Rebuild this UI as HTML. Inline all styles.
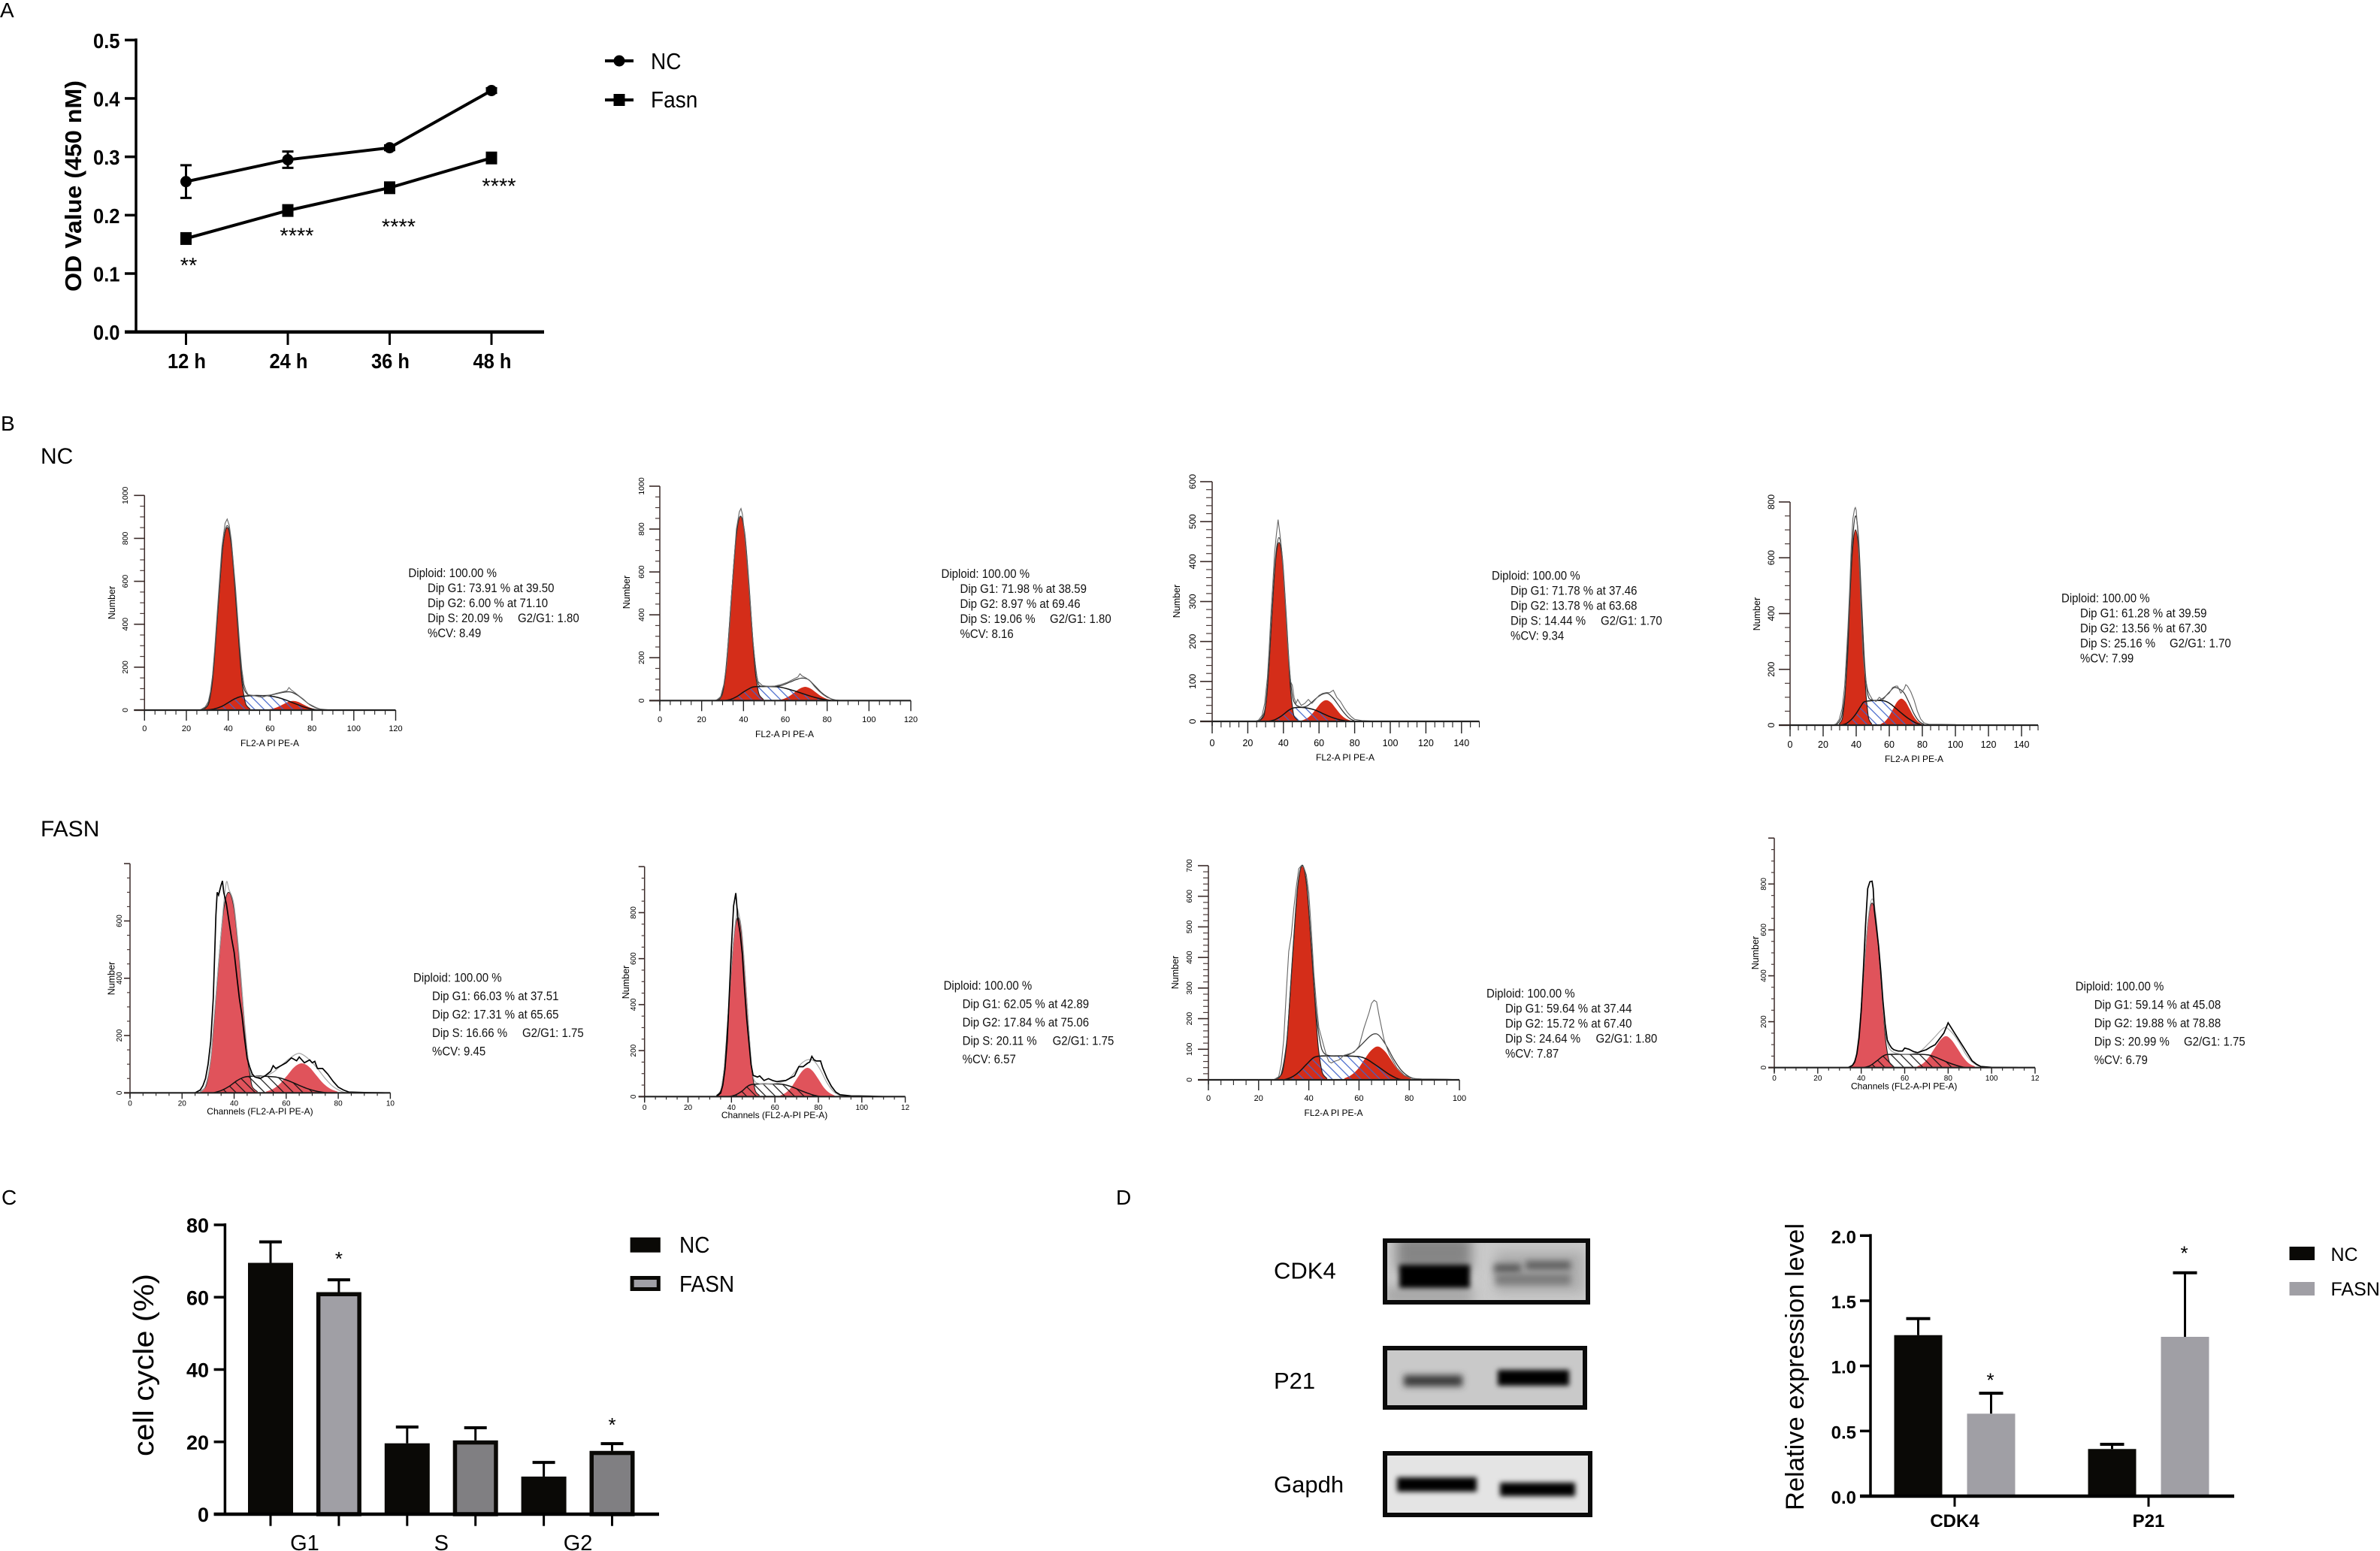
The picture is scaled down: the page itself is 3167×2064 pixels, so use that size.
<!DOCTYPE html>
<html lang="en">
<head>
<meta charset="utf-8">
<title>Cell proliferation and cell cycle figure</title>
<style>
html,body{margin:0;padding:0;background:#fff;}
svg#fig{display:block;}
text{font-family:"Liberation Sans",Arial,sans-serif;fill:#000;}
.st{font-size:15px;fill:#111;}
.pl{font-size:28px;}
.lg{font-size:28px;}
.wb{font-size:31px;}
</style>
</head>
<body>
<svg id="fig" width="3167" height="2064" viewBox="0 0 3167 2064">
<defs>
<pattern id="hatch-blue" patternUnits="userSpaceOnUse" width="9" height="9" patternTransform="rotate(-45)"><line x1="4" y1="0" x2="4" y2="9" stroke="#3f63c9" stroke-width="1.2"/></pattern>
<pattern id="hatch-black" patternUnits="userSpaceOnUse" width="9" height="9" patternTransform="rotate(-45)"><line x1="4" y1="0" x2="4" y2="9" stroke="#111" stroke-width="1.2"/></pattern>
<filter id="blur-soft" x="-30%" y="-100%" width="160%" height="300%"><feGaussianBlur stdDeviation="3.5"/></filter>
<filter id="blur-mid" x="-30%" y="-100%" width="160%" height="300%"><feGaussianBlur stdDeviation="4.5"/></filter>
<filter id="blur-wide" x="-30%" y="-80%" width="160%" height="260%"><feGaussianBlur stdDeviation="8"/></filter>
</defs>
<rect x="0" y="0" width="3167" height="2064" fill="#fff"/>

<text class="pl" x="0" y="23">A</text>
<text class="pl" x="1" y="573">B</text>
<text class="pl" x="2" y="1603">C</text>
<text class="pl" x="1485" y="1603">D</text>
<text font-size="30" x="54" y="617">NC</text>
<text font-size="30" x="54" y="1113">FASN</text>

<g id="panel-a"></g>
<g id="panel-b"></g>
<g id="panel-c"></g>
<g id="panel-d"></g>

<g transform="translate(543.4 768)">
<text class="st" x="0" y="0">Diploid: 100.00 %</text>
<text class="st" x="25.6" y="20">Dip G1: 73.91 % at 39.50</text>
<text class="st" x="25.6" y="40">Dip G2: 6.00 % at 71.10</text>
<text class="st" x="25.6" y="60">Dip S: 20.09 %</text>
<text class="st" x="145.6" y="60">G2/G1: 1.80</text>
<text class="st" x="25.6" y="80">%CV: 8.49</text>
</g>
<g transform="translate(1252.5 769)">
<text class="st" x="0" y="0">Diploid: 100.00 %</text>
<text class="st" x="25" y="20">Dip G1: 71.98 % at 38.59</text>
<text class="st" x="25" y="40">Dip G2: 8.97 % at 69.46</text>
<text class="st" x="25" y="60">Dip S: 19.06 %</text>
<text class="st" x="144.5" y="60">G2/G1: 1.80</text>
<text class="st" x="25" y="80">%CV: 8.16</text>
</g>
<g transform="translate(1985 771.7)">
<text class="st" x="0" y="0">Diploid: 100.00 %</text>
<text class="st" x="25" y="20">Dip G1: 71.78 % at 37.46</text>
<text class="st" x="25" y="40">Dip G2: 13.78 % at 63.68</text>
<text class="st" x="25" y="60">Dip S: 14.44 %</text>
<text class="st" x="145" y="60">G2/G1: 1.70</text>
<text class="st" x="25" y="80">%CV: 9.34</text>
</g>
<g transform="translate(2743 801.7)">
<text class="st" x="0" y="0">Diploid: 100.00 %</text>
<text class="st" x="25" y="20">Dip G1: 61.28 % at 39.59</text>
<text class="st" x="25" y="40">Dip G2: 13.56 % at 67.30</text>
<text class="st" x="25" y="60">Dip S: 25.16 %</text>
<text class="st" x="144" y="60">G2/G1: 1.70</text>
<text class="st" x="25" y="80">%CV: 7.99</text>
</g>
<g transform="translate(550 1306.7)">
<text class="st" x="0" y="0">Diploid: 100.00 %</text>
<text class="st" x="25" y="24.5">Dip G1: 66.03 % at 37.51</text>
<text class="st" x="25" y="49">Dip G2: 17.31 % at 65.65</text>
<text class="st" x="25" y="73.5">Dip S: 16.66 %</text>
<text class="st" x="145" y="73.5">G2/G1: 1.75</text>
<text class="st" x="25" y="98">%CV: 9.45</text>
</g>
<g transform="translate(1255.6 1317)">
<text class="st" x="0" y="0">Diploid: 100.00 %</text>
<text class="st" x="25" y="24.5">Dip G1: 62.05 % at 42.89</text>
<text class="st" x="25" y="49">Dip G2: 17.84 % at 75.06</text>
<text class="st" x="25" y="73.5">Dip S: 20.11 %</text>
<text class="st" x="145" y="73.5">G2/G1: 1.75</text>
<text class="st" x="25" y="98">%CV: 6.57</text>
</g>
<g transform="translate(1978 1327.7)">
<text class="st" x="0" y="0">Diploid: 100.00 %</text>
<text class="st" x="25" y="20">Dip G1: 59.64 % at 37.44</text>
<text class="st" x="25" y="40">Dip G2: 15.72 % at 67.40</text>
<text class="st" x="25" y="60">Dip S: 24.64 %</text>
<text class="st" x="145.5" y="60">G2/G1: 1.80</text>
<text class="st" x="25" y="80">%CV: 7.87</text>
</g>
<g transform="translate(2761.7 1318)">
<text class="st" x="0" y="0">Diploid: 100.00 %</text>
<text class="st" x="25" y="24.5">Dip G1: 59.14 % at 45.08</text>
<text class="st" x="25" y="49">Dip G2: 19.88 % at 78.88</text>
<text class="st" x="25" y="73.5">Dip S: 20.99 %</text>
<text class="st" x="144.3" y="73.5">G2/G1: 1.75</text>
<text class="st" x="25" y="98">%CV: 6.79</text>
</g>

<g>
<text class="wb" x="1695" y="1701.7">CDK4</text>
<text class="wb" x="1695" y="1848">P21</text>
<text class="wb" x="1695" y="1986">Gapdh</text>

<svg x="1840" y="1648" width="276" height="88" viewBox="1840 1648 276 88">
<rect x="1840" y="1648" width="276" height="88" fill="#cacaca"/>
<rect x="1858" y="1645" width="100" height="45" fill="#858585" filter="url(#blur-wide)"/>
<rect x="1842" y="1712" width="118" height="24" fill="#a6a6a6" filter="url(#blur-wide)"/>
<rect x="1990" y="1665" width="118" height="55" fill="#aeaeae" filter="url(#blur-wide)"/>
<rect x="1862" y="1683" width="94" height="31" fill="#030303" filter="url(#blur-soft)"/>
<rect x="1988" y="1682" width="36" height="12" fill="#585858" filter="url(#blur-mid)"/>
<rect x="2030" y="1678" width="60" height="12" fill="#5e5e5e" filter="url(#blur-mid)"/>
<rect x="1990" y="1695" width="100" height="15" fill="#7c7c7c" filter="url(#blur-mid)"/>
<rect x="1843" y="1651" width="270" height="82" fill="none" stroke="#0b0b0b" stroke-width="6"/>
</svg>
<svg x="1840" y="1791" width="272" height="85" viewBox="1840 1791 272 85">
<rect x="1840" y="1791" width="272" height="85" fill="#c9c9c9"/>
<rect x="1868" y="1830" width="78" height="15" fill="#3a3a3a" filter="url(#blur-mid)"/>
<rect x="1993" y="1823" width="95" height="21" fill="#030303" filter="url(#blur-soft)"/>
<rect x="1843" y="1794" width="266" height="79" fill="none" stroke="#0b0b0b" stroke-width="6"/>
</svg>
<svg x="1840" y="1931" width="279" height="88" viewBox="1840 1931 279 88">
<rect x="1840" y="1931" width="279" height="88" fill="#e4e4e4"/>
<rect x="1859" y="1966" width="106" height="19" fill="#030303" filter="url(#blur-soft)"/>
<rect x="1996" y="1973" width="100" height="18" fill="#050505" filter="url(#blur-soft)"/>
<rect x="1843" y="1934" width="273" height="82" fill="none" stroke="#0b0b0b" stroke-width="6"/>
</svg>
</g>
</svg>

<script>
/* ---------- Panel A data ---------- */
const timeCategories = ['12 h','24 h','36 h','48 h'];
const odTicks = [0,0.1,0.2,0.3,0.4,0.5];
const ncOd = [0.2575,0.295,0.3155,0.4135];
const ncOdErr = [0.028,0.014,0.004,0.004];
const fasnOd = [0.16,0.208,0.247,0.298];
const fasnOdErr = [0.003,0.005,0.005,0.006];
const odSig = ['**','****','****','****'];
const odSigLevels = [0.12,0.171,0.186,0.256];

/* ---------- Panel C data ---------- */
const phaseCategories = ['G1','S','G2'];
const cycleTicks = [0,20,40,60,80];
const ncCycle = [69.5,19.6,10.4];
const ncCycleErr = [5.8,4.5,3.9];
const fasnCycle = [61.4,20.4,17.5];
const fasnCycleErr = [3.4,3.5,2.0];
const cycleSig = ['*','','*'];
const cycleSigLevels = [71.9,null,26];

/* ---------- Panel D data ---------- */
const proteinCategories = ['CDK4','P21'];
const exprTicks = ['0.0','0.5','1.0','1.5','2.0'];
const ncExpr = [1.236,0.362];
const ncExprErr = [0.127,0.036];
const fasnExpr = [0.633,1.223];
const fasnExprErr = [0.157,0.492];
const exprSigLevels = [0.913,1.89];

/* ---------- Panel B data: [channel, count] ---------- */
const nc1G1 = [[28.5,5],[30.5,26],[31.5,68],[32.5,136],[33.5,255],[35.5,528],[37.5,766],[39.5,851],[41.5,766],[43.5,528],[45.5,255],[46.5,136],[47.5,68],[48.5,26],[50.5,5]];
const nc1S = [[29,0],[33,5],[37,18],[40,35],[43,52],[46,63],[50,67],[55,68],[60,66],[64,58],[68,45],[72,30],[76,15],[80,5],[84,0]];
const nc1G2 = [[58.5,2],[61,6],[63.5,14],[66,26],[68.5,38],[71,43],[73.5,38],[76,26],[78.5,14],[81,6],[83.5,2]];
const nc1Raw = [[26,0],[27,3],[29,15],[30.5,40],[31.5,85],[32.5,160],[33.5,280],[35.5,560],[37,760],[38.5,870],[39.5,890],[40.5,860],[41.5,790],[43.5,570],[45.5,300],[46.5,190],[47.5,120],[48.5,90],[49.5,72],[52,68],[56,60],[58,65],[60,70],[63,78],[66,85],[68,90],[69,105],[70,95],[72,80],[74,65],[76,50],[78,32],[80,22],[82,12],[84,5],[88,1],[90,0]];
const nc1Fit = [[27,1],[29,12],[30.5,32],[32,110],[33.5,265],[35.5,530],[37.5,770],[39.5,860],[41.5,775],[43.5,540],[45.5,280],[47,125],[49,75],[52,68],[56,68],[60,70],[64,78],[67,84],[70,84],[73,70],[76,48],[79,25],[82,10],[85,2]];

const nc2G1 = [[27.6,5],[29.6,26],[30.6,69],[31.6,138],[32.6,258],[34.6,533],[36.6,774],[38.6,860],[40.6,774],[42.6,533],[44.6,258],[45.6,138],[46.6,69],[47.6,26],[49.6,5]];
const nc2S = [[31,0],[34,6],[37,20],[40,40],[43,57],[45,64],[50,66],[55,65],[58,62],[62,52],[66,40],[70,27],[74,15],[78,6],[82,0]];
const nc2G2 = [[57,3],[59.5,9],[62,21],[64.5,39],[67,56],[69.5,64],[72,56],[74.5,39],[77,21],[79.5,9],[82,3]];
const nc2Raw = [[26,0],[27,2],[29,15],[30.6,75],[32,170],[33,300],[35,590],[36.6,800],[38,880],[38.8,896],[39.5,870],[41,730],[43,480],[44.6,270],[46,130],[47,88],[49,70],[52,66],[55,68],[58,75],[61,85],[64,100],[66,110],[67,125],[68,115],[70,105],[72,90],[74,65],[76,45],[78,28],[80,15],[82,8],[84,3],[87,0]];
const nc2Fit = [[27,1],[29,12],[30.6,65],[32.6,255],[34.6,530],[36.6,775],[38.6,860],[40.6,780],[42.6,545],[44.6,270],[46.6,100],[48,68],[51,66],[55,67],[58,70],[62,85],[65,97],[68,105],[71,98],[74,70],[77,40],[80,18],[83,4],[86,0]];

const nc3G1 = [[27,3],[29,13],[29.9,36],[30.85,72],[31.8,134],[33.7,278],[35.6,403],[37.5,448],[39.4,403],[41.3,278],[43.2,134],[44.15,72],[45.1,36],[46,13],[48,3]];
const nc3S = [[31,0],[35,4],[39,14],[43,28],[46,34],[50,35],[54,33],[58,28],[62,20],[66,12],[70,6],[74,2],[78,0]];
const nc3G2 = [[50.25,2],[53,7],[55.75,17],[58.5,32],[61.25,47],[64,53],[66.75,47],[69.5,32],[72.25,17],[75,7],[77.75,2]];
const nc3Raw = [[24,0],[26,3],[28,15],[29.5,45],[31,110],[32,180],[33,270],[34,340],[35,420],[36,465],[37,505],[38,470],[39,430],[40,370],[41,300],[42,220],[43,150],[44,100],[45,90],[46,60],[47,45],[48,55],[50,40],[52,45],[54,55],[56,45],[58,55],[60,65],[62,70],[64,72],[66,72],[68,78],[70,60],[72,50],[74,35],[76,22],[78,12],[80,5],[84,2],[90,1],[100,1],[102,0]];
const nc3Fit = [[26,1],[28,10],[29.9,38],[31.8,135],[33.7,280],[35.6,410],[37.5,460],[39.4,410],[41.3,285],[43.2,145],[45,65],[47,42],[50,36],[53,38],[56,48],[59,60],[62,68],[65,70],[68,58],[71,40],[74,22],[77,8],[80,1]];

const nc4G1 = [[29.7,4],[31.5,21],[32.4,56],[33.3,112],[34.2,210],[36,434],[37.8,630],[39.6,700],[41.4,630],[43.2,434],[45,210],[45.9,112],[46.8,56],[47.7,21],[49.5,4]];
const nc4S = [[31,0],[34,6],[37,20],[40,42],[43,70],[45,84],[50,88],[55,88],[58,85],[61,75],[64,60],[68,40],[72,22],[76,8],[80,1]];
const nc4G2 = [[54.8,4],[57.3,13],[59.8,31],[62.3,58],[64.8,84],[67.3,95],[69.8,84],[72.3,58],[74.8,31],[77.3,13],[79.8,4]];
const nc4Raw = [[26,0],[28,5],[29.7,20],[31.5,60],[33,140],[34,240],[35,350],[36,480],[37,640],[38,740],[39,775],[39.5,780],[40,770],[41,690],[42,560],[43,410],[44,260],[45,200],[46,155],[47,125],[48,110],[50,90],[52,85],[54,100],[56,90],[58,105],[60,115],[62,135],[64,140],[65,140],[67,115],[69,130],[70,145],[71,140],[73,120],[75,90],[77,50],[79,22],[81,8],[84,3],[92,3],[100,2],[101,0]];
const nc4Fit = [[28,2],[30,15],[31.5,40],[33.3,120],[35,270],[36,440],[37.8,660],[39.6,750],[41.4,670],[43.2,450],[45,230],[47,110],[50,90],[54,90],[57,100],[60,118],[63,135],[66,130],[69,115],[72,80],[75,40],[78,14],[81,3]];

const fasn1G1 = [[27,4],[29,21],[29.96,56],[30.94,112],[31.92,210],[33.88,434],[35.84,630],[37.8,700],[40,640],[42.2,440],[44.2,215],[45.2,115],[46.2,58],[47,21],[49,4]];
const fasn1S = [[32,0],[35,8],[38,22],[41,42],[44,55],[48,58],[52,58],[56,55],[59,48],[62,38],[65,26],[68,15],[71,7],[74,2],[76,0]];
const fasn1G2 = [[52.25,4],[55,14],[57.75,33],[60.5,62],[63.25,91],[66,103],[68.75,91],[71.5,62],[74.25,33],[77,14],[79.75,4]];
const fasn1Raw = [[25,0],[27,10],[28,25],[29,50],[30,100],[31,180],[32,330],[33,620],[33.5,700],[34,690],[35,725],[35.5,740],[36,700],[37,660],[38,600],[39,540],[40,490],[41,410],[42,330],[43,270],[44,190],[45,120],[46,90],[47,65],[48,55],[50,50],[52,60],[54,75],[55,95],[56,85],[58,95],[60,105],[62,122],[64,112],[65,125],[67,105],[69,115],[70,105],[71,110],[72,85],[74,85],[76,65],[78,40],[80,20],[82,10],[84,3],[90,1],[98,0]];
const fasn1Fit = [[27,3],[29,25],[30.9,110],[31.9,215],[33.9,440],[35.8,640],[37,735],[38,710],[40,650],[42.2,450],[44.2,225],[46,80],[48,58],[52,60],[55,72],[58,95],[61,118],[64,136],[66,135],[69,115],[72,85],[75,50],[78,22],[81,6],[83,0]];

const fasn2G1 = [[33.1,5],[34.9,23],[35.8,62],[36.7,125],[37.6,234],[39.4,483],[41.2,701],[43,779],[44.8,701],[46.6,483],[48.4,234],[49.3,125],[50.2,62],[51.1,23],[52.9,5]];
const fasn2S = [[39,0],[42,8],[45,25],[47,42],[49,52],[53,55],[58,55],[63,54],[66,48],[69,38],[72,26],[75,15],[78,6],[81,0]];
const fasn2G2 = [[62.5,5],[65,17],[67.5,40],[70,76],[72.5,110],[75,125],[77.5,110],[80,76],[82.5,40],[85,17],[87.5,5]];
const fasn2Raw = [[33,0],[35,15],[36,50],[37,120],[38,240],[39,440],[40,650],[41,830],[42,885],[43,770],[44,710],[45,620],[46,470],[47,340],[48,240],[49,140],[50,92],[52,85],[53,90],[55,70],[57,78],[59,70],[61,65],[63,68],[65,70],[67,80],[69,90],[71,130],[73,130],[75,145],[76,150],[77,175],[78,160],[79,155],[81,155],[82,125],[84,80],[86,45],[88,20],[90,8],[95,3],[104,2],[110,0]];
const fasn2Fit = [[35,15],[36.7,120],[38,260],[39.4,490],[41.2,705],[42.5,800],[43,810],[44.8,715],[46.6,490],[48.4,240],[50,85],[53,56],[58,56],[62,60],[66,75],[69,105],[72,142],[75,160],[78,155],[81,115],[84,60],[87,22],[90,4]];

const fasn3G1 = [[27.5,4],[29.3,21],[30.2,56],[31.1,112],[32,210],[33.8,434],[35.6,630],[37.4,700],[39.2,630],[41,434],[42.8,210],[43.7,112],[44.6,56],[45.5,21],[47.3,4]];
const fasn3S = [[30,0],[33,8],[36,25],[39,50],[42,73],[45,78],[50,78],[55,78],[60,76],[63,68],[66,52],[69,35],[72,18],[75,5],[77,0]];
const fasn3G2 = [[54.2,5],[56.8,15],[59.5,35],[62.1,66],[64.8,96],[67.4,109],[70,96],[72.7,66],[75.3,35],[78,15],[80.6,5]];
const fasn3Raw = [[26,0],[28,10],[29,50],[30,130],[31,280],[32,420],[33,470],[34,560],[35,630],[36,690],[37,700],[38,695],[39,670],[40,610],[41,490],[42,350],[43,250],[44,170],[45,140],[46,110],[47,80],[48,60],[49,55],[50,60],[52,65],[54,80],[56,85],[58,90],[60,110],[62,170],[64,220],[65,250],[66,260],[67,255],[68,210],[70,130],[72,85],[75,40],[78,15],[81,5],[85,3],[95,2],[100,0]];
const fasn3Fit = [[27,3],[29,20],[31,110],[32,210],[33.8,440],[35.6,635],[37.4,702],[39.2,635],[41,440],[42.8,230],[44.5,125],[46,88],[49,78],[52,78],[55,80],[58,92],[61,115],[64,140],[66,150],[68,145],[71,110],[74,65],[77,30],[80,10],[83,2]];

const fasn4G1 = [[35.1,4],[36.9,22],[37.8,57],[38.7,115],[39.6,215],[41.4,445],[43.2,645],[45,717],[46.8,645],[48.6,445],[50.4,215],[51.3,115],[52.2,57],[53.1,22],[54.9,4]];
const fasn4S = [[41,0],[44,8],[47,28],[50,50],[52,57],[57,58],[62,58],[67,58],[71,55],[74,46],[77,34],[80,22],[83,12],[86,4],[88,0]];
const fasn4G2 = [[65.8,6],[68.4,18],[71,44],[73.7,83],[76.4,120],[79,137],[81.6,120],[84.3,83],[87,44],[89.6,18],[92.3,6]];
const fasn4Raw = [[34,0],[36,10],[37,25],[38,60],[39,130],[40,250],[41,430],[42,620],[43,780],[44,810],[45,812],[45.5,780],[46,690],[47,610],[48,530],[49,420],[50,290],[51,190],[52,120],[53,100],[54,85],[55,78],[57,72],[59,72],[60,85],[62,80],[64,70],[66,65],[68,72],[70,78],[72,90],[74,100],[76,125],[78,150],[80,195],[81,180],[83,150],[85,120],[87,90],[89,60],[91,30],[93,15],[95,5],[100,1],[112,0]];
const fasn4Fit = [[36,12],[37.8,60],[39.6,220],[41.4,450],[43.2,650],[45,735],[46.8,660],[48.6,455],[50.4,225],[52,110],[54,72],[58,60],[63,60],[67,70],[71,105],[74,135],[77,165],[79,175],[82,150],[85,110],[88,60],[91,25],[94,6]];

const ticksX120 = ['0','20','40','60','80','100','120'];
const ticksX140 = ['0','20','40','60','80','100','120','140'];
const ticksX100 = ['0','20','40','60','80','100'];
const ticksXClip10 = ['0','20','40','60','80','10'];
const ticksXClip12 = ['0','20','40','60','80','100','12'];
const ticksY1000 = ['0','200','400','600','800','1000'];
const ticksY800 = ['0','200','400','600','800'];
const ticksY600 = ['0','100','200','300','400','500','600'];
const ticksY700 = ['0','100','200','300','400','500','600','700'];
const ticksYFasn600 = ['0','200','400','600'];

/* ---------- helpers ---------- */
const svgRoot = document.getElementById('fig');
const NS = svgRoot.namespaceURI;
function mk(parent, tag, attrs, content) {
  const n = document.createElementNS(NS, tag);
  for (const k in attrs) n.setAttribute(k, attrs[k]);
  if (content !== undefined) n.textContent = content;
  parent.appendChild(n);
  return n;
}
function smoothPath(pts) {
  let d = 'M' + pts[0][0].toFixed(1) + ' ' + pts[0][1].toFixed(1);
  for (let i = 0; i < pts.length - 1; i++) {
    const p0 = pts[Math.max(i - 1, 0)], p1 = pts[i], p2 = pts[i + 1], p3 = pts[Math.min(i + 2, pts.length - 1)];
    const c1x = p1[0] + (p2[0] - p0[0]) / 6, c1y = p1[1] + (p2[1] - p0[1]) / 6;
    const c2x = p2[0] - (p3[0] - p1[0]) / 6, c2y = p2[1] - (p3[1] - p1[1]) / 6;
    d += 'C' + c1x.toFixed(1) + ' ' + c1y.toFixed(1) + ' ' + c2x.toFixed(1) + ' ' + c2y.toFixed(1) + ' ' + p2[0].toFixed(1) + ' ' + p2[1].toFixed(1);
  }
  return d;
}
function polyPath(pts) {
  return 'M' + pts.map(p => p[0].toFixed(1) + ' ' + p[1].toFixed(1)).join('L');
}
/* keep a label's measured width but draw it at a taller font size */
function narrowText(el, tallSize) {
  const w = el.getComputedTextLength();
  el.style.fontSize = tallSize + 'px';
  el.setAttribute('textLength', w.toFixed(1));
  el.setAttribute('lengthAdjust', 'spacingAndGlyphs');
}

/* ---------- Panel A ---------- */
(function drawA() {
  const g = document.getElementById('panel-a');
  const axisX = 181, xEnd = 724, y0 = 441.7, yTopPx = 53.3, maxV = 0.5;
  const firstTick = 247.5, tickStep = 135.5;
  const sigDx = [3.5, 12, 12, 10];
  const yScale = v => y0 - (v / maxV) * (y0 - yTopPx);
  const xScale = i => firstTick + i * tickStep;

  const yAxis = mk(g, 'line', {x1: axisX, y1: yTopPx - 2, x2: axisX, y2: y0, stroke: '#000', 'stroke-width': 3.5});
  
  
  const xAxis = mk(g, 'line', {x1: 166, y1: y0, x2: xEnd, y2: y0, stroke: '#000', 'stroke-width': 4.5});
  
  

  odTicks.forEach(v => {
    const t = mk(g, 'line', {x1: 166, y1: yScale(v), x2: axisX, y2: yScale(v), stroke: '#000', 'stroke-width': 3.5});
    
    
    const l = mk(g, 'text', {class: 'tall-a', x: 159.5, y: yScale(v) + 10.5, 'text-anchor': 'end', 'font-size': 25.5, 'font-weight': 'bold'}, v.toFixed(1));
    
    
  });
  timeCategories.forEach((c, i) => {
    const t = mk(g, 'line', {x1: xScale(i), y1: y0, x2: xScale(i), y2: 459, stroke: '#000', 'stroke-width': 3});
    
    
    const l = mk(g, 'text', {class: 'tall-a', x: xScale(i) + 1, y: 490, 'text-anchor': 'middle', 'font-size': 25.5, 'font-weight': 'bold'}, c);
    
    
  });
  const title = mk(g, 'text', {transform: 'translate(108 247.5) rotate(-90)', 'text-anchor': 'middle', 'font-size': 31, 'font-weight': 'bold', textLength: 281, lengthAdjust: 'spacingAndGlyphs'}, 'OD Value (450 nM)');
  
  

  const ncLine = mk(g, 'polyline', {points: ncOd.map((v, i) => xScale(i) + ',' + yScale(v)).join(' '), fill: 'none', stroke: '#000', 'stroke-width': 4});
  
  
  const fLine = mk(g, 'polyline', {points: fasnOd.map((v, i) => xScale(i) + ',' + yScale(v)).join(' '), fill: 'none', stroke: '#000', 'stroke-width': 4});
  
  

  ncOd.forEach((v, i) => {
    const x = xScale(i);
    const top = yScale(v + ncOdErr[i]), bot = yScale(v - ncOdErr[i]);
    const e = mk(g, 'path', {d: 'M' + x + ' ' + top + 'V' + bot + 'M' + (x - 7.5) + ' ' + top + 'H' + (x + 7.5) + 'M' + (x - 7.5) + ' ' + bot + 'H' + (x + 7.5), fill: 'none', stroke: '#000', 'stroke-width': 3});
    
    
    const m = mk(g, 'circle', {cx: x, cy: yScale(v), r: 7.5, fill: '#000'});
    
    
  });
  fasnOd.forEach((v, i) => {
    const x = xScale(i);
    const top = yScale(v + fasnOdErr[i]), bot = yScale(v - fasnOdErr[i]);
    const e = mk(g, 'path', {d: 'M' + x + ' ' + top + 'V' + bot, fill: 'none', stroke: '#000', 'stroke-width': 3});
    
    
    const m = mk(g, 'rect', {x: x - 7.5, y: yScale(v) - 8.5, width: 15, height: 17, fill: '#000'});
    
    
  });
  odSig.forEach((s, i) => {
    const st = mk(g, 'text', {x: xScale(i) + sigDx[i], y: yScale(odSigLevels[i]) + 14.5, 'text-anchor': 'middle', 'font-size': 29}, s);
    
    
  });

  const l1 = mk(g, 'line', {x1: 805, y1: 81, x2: 843, y2: 81, stroke: '#000', 'stroke-width': 4});
  
  
  const m1 = mk(g, 'circle', {cx: 824, cy: 81, r: 7.5, fill: '#000'});
  
  
  const t1 = mk(g, 'text', {class: 'lg', x: 866, y: 92}, 'NC');
  
  
  const l2 = mk(g, 'line', {x1: 805, y1: 133, x2: 843, y2: 133, stroke: '#000', 'stroke-width': 4});
  
  
  const m2 = mk(g, 'rect', {x: 816.5, y: 125, width: 15, height: 16, fill: '#000'});
  
  
  const t2 = mk(g, 'text', {class: 'lg', x: 866, y: 143}, 'Fasn');
  
  
})();

/* ---------- Panel B ---------- */
const plotSpecs = [
 {id:'nc1',x0:192.3,x1:526.5,xMax:120,y0:945,y1:659.3,yMax:1000,xMaj:20,yMaj:200,yMin:50,xT:ticksX120,yT:ticksY1000,lab:'FL2-A PI PE-A',labX:359,labY:993,tickY:973,numX:153,numY:802,yLabX:170,fs:11,yfs:10.5,tM:14,tm:6,kind:'nc',g1:nc1G1,s:nc1S,g2:nc1G2,raw:nc1Raw,fit:nc1Fit},
 {id:'nc2',x0:878,x1:1212,xMax:120,y0:932.3,y1:647,yMax:1000,xMaj:20,yMaj:200,yMin:50,xT:ticksX120,yT:ticksY1000,lab:'FL2-A PI PE-A',labX:1044,labY:981,tickY:961,numX:838,numY:788,yLabX:857,fs:11,yfs:10.5,tM:14,tm:6,kind:'nc',g1:nc2G1,s:nc2S,g2:nc2G2,raw:nc2Raw,fit:nc2Fit},
 {id:'nc3',x0:1613,x1:1968.5,xMax:150,y0:960,y1:641,yMax:600,xMaj:20,yMaj:100,yMin:20,xT:ticksX140,yT:ticksY600,lab:'FL2-A PI PE-A',labX:1790,labY:1012,tickY:993,numX:1570,numY:800,yLabX:1591,fs:12.5,yfs:12,tM:16,tm:8,kind:'nc',g1:nc3G1,s:nc3S,g2:nc3G2,raw:nc3Raw,fit:nc3Fit},
 {id:'nc4',x0:2382,x1:2712,xMax:150,y0:965,y1:668,yMax:800,xMaj:20,yMaj:200,yMin:50,xT:ticksX140,yT:ticksY800,lab:'FL2-A PI PE-A',labX:2547,labY:1014,tickY:995,numX:2342,numY:817,yLabX:2361,fs:12.5,yfs:12,tM:15,tm:7,kind:'nc',g1:nc4G1,s:nc4S,g2:nc4G2,raw:nc4Raw,fit:nc4Fit},
 {id:'fasn1',x0:173,x1:519.4,xMax:100,y0:1454.3,y1:1149.3,yMax:800,xMaj:20,yMaj:200,yMin:50,xT:ticksXClip10,yT:ticksYFasn600,lab:'Channels (FL2-A-PI PE-A)',labX:346,labY:1483,tickY:1471.6,numX:152.5,numY:1302,yLabX:162,fs:10,yfs:10,tM:8,tm:4,kind:'fasn',g1:fasn1G1,s:fasn1S,g2:fasn1G2,raw:fasn1Raw,fit:fasn1Fit},
 {id:'fasn2',x0:857.7,x1:1204.6,xMax:120,y0:1459.3,y1:1153.3,yMax:1000,xMaj:20,yMaj:200,yMin:50,xT:ticksXClip12,yT:ticksY800,lab:'Channels (FL2-A-PI PE-A)',labX:1030.6,labY:1488,tickY:1477,numX:837,numY:1307,yLabX:846,fs:10,yfs:10,tM:8,tm:4,kind:'fasn',g1:fasn2G1,s:fasn2S,g2:fasn2G2,raw:fasn2Raw,fit:fasn2Fit},
 {id:'fasn3',x0:1608,x1:1942,xMax:100,y0:1437,y1:1152,yMax:700,xMaj:20,yMaj:100,yMin:20,xT:ticksX100,yT:ticksY700,lab:'FL2-A PI PE-A',labX:1774.5,labY:1485,tickY:1465,numX:1568,numY:1294,yLabX:1586,fs:11,yfs:10.5,tM:14,tm:7,kind:'nc',g1:fasn3G1,s:fasn3S,g2:fasn3G2,raw:fasn3Raw,fit:fasn3Fit},
 {id:'fasn4',x0:2361,x1:2708,xMax:120,y0:1420.7,y1:1115.3,yMax:1000,xMaj:20,yMaj:200,yMin:50,xT:ticksXClip12,yT:ticksY800,lab:'Channels (FL2-A-PI PE-A)',labX:2533.7,labY:1449.3,tickY:1438,numX:2340,numY:1268,yLabX:2350,fs:10,yfs:10,tM:8,tm:4,kind:'fasn',g1:fasn4G1,s:fasn4S,g2:fasn4G2,raw:fasn4Raw,fit:fasn4Fit}
];

plotSpecs.forEach(p => {
  const root = document.getElementById('panel-b');
  const g = mk(root, 'g', {});
  
  
  const sx = v => p.x0 + (v / p.xMax) * (p.x1 - p.x0);
  const sy = v => p.y0 - (v / p.yMax) * (p.y0 - p.y1);
  const toPx = arr => arr.map(d => [sx(d[0]), sy(d[1])]);
  const area = arr => {
    const pts = toPx(arr);
    return smoothPath(pts) + 'L' + pts[pts.length - 1][0].toFixed(1) + ' ' + p.y0 + 'L' + pts[0][0].toFixed(1) + ' ' + p.y0 + 'Z';
  };
  const red = p.kind === 'nc' ? '#d42d19' : '#e0535b';
  const hatch = p.kind === 'nc' ? 'url(#hatch-blue)' : 'url(#hatch-black)';

  const sFill = mk(g, 'path', {d: area(p.s), fill: '#fff'});
  
  
  const g1Fill = mk(g, 'path', {d: area(p.g1), fill: red});
  
  
  const g2Fill = mk(g, 'path', {d: area(p.g2), fill: red});
  
  
  const sHatch = mk(g, 'path', {d: area(p.s), fill: hatch});
  
  
  const sLine = mk(g, 'path', {d: smoothPath(toPx(p.s)), fill: 'none', stroke: '#111', 'stroke-width': 1.5});
  
  
  const g1Line = mk(g, 'path', {d: smoothPath(toPx(p.g1)), fill: 'none', stroke: '#222', 'stroke-width': 1.1});
  
  

  const rawColor = p.kind === 'nc' ? '#666' : '#000';
  const rawWidth = p.kind === 'nc' ? 1.1 : 1.7;
  const fitColor = p.kind === 'nc' ? '#333' : '#a5a5a5';
  const fit = mk(g, 'path', {d: smoothPath(toPx(p.fit)), fill: 'none', stroke: fitColor, 'stroke-width': 1.2});
  
  
  const raw = mk(g, 'path', {d: polyPath(toPx(p.raw)), fill: 'none', stroke: rawColor, 'stroke-width': rawWidth});
  
  

  const ya = mk(g, 'line', {x1: p.x0, y1: p.y1, x2: p.x0, y2: p.y0 + 6, stroke: '#3a2a28', 'stroke-width': 1.5});
  
  
  const xa = mk(g, 'line', {x1: p.x0 - p.tM, y1: p.y0, x2: p.x1, y2: p.y0, stroke: '#222', 'stroke-width': 2.2});
  
  

  for (let v = 0; v <= p.yMax + 0.001; v += p.yMin) {
    const major = v % p.yMaj === 0;
    const t = mk(g, 'line', {x1: p.x0 - (major ? p.tM : p.tm), y1: sy(v), x2: p.x0, y2: sy(v), stroke: major ? '#3a2a28' : '#4a3a38', 'stroke-width': major ? 1.6 : 1.2});
    
    
  }
  for (let v = 0; v <= p.xMax + 0.001; v += 5) {
    const major = v % p.xMaj === 0;
    const t = mk(g, 'line', {x1: sx(v), y1: p.y0, x2: sx(v), y2: p.y0 + (major ? p.tM : p.tm), stroke: '#222', 'stroke-width': major ? 1.4 : 1.1});
    
    
  }
  p.xT.forEach((lbl, i) => {
    const t = mk(g, 'text', {x: sx(i * p.xMaj), y: p.tickY, 'text-anchor': 'middle', 'font-size': p.fs, fill: '#222'}, lbl);
    
    
  });
  p.yT.forEach((lbl, i) => {
    const t = mk(g, 'text', {transform: 'translate(' + p.yLabX + ' ' + sy(i * p.yMaj) + ') rotate(-90)', 'text-anchor': 'middle', 'font-size': p.yfs, fill: '#222'}, lbl);
    
    
  });
  const xt = mk(g, 'text', {x: p.labX, y: p.labY, 'text-anchor': 'middle', 'font-size': 12, fill: '#111'}, p.lab);
  
  
  const yt = mk(g, 'text', {transform: 'translate(' + p.numX + ' ' + p.numY + ') rotate(-90)', 'text-anchor': 'middle', 'font-size': 12.5, fill: '#111'}, 'Number');
  
  
});

/* ---------- Panel C ---------- */
(function drawC() {
  const g = document.getElementById('panel-c');
  const axisX = 299.4, xEnd = 877, y0 = 2015, yTopPx = 1630, maxV = 80;
  const barW = 60, firstBar = 360, barStep = 90.9, strokeW = 5.5;
  const fasnFills = ['#a09fa5', '#807f82', '#807f82'];
  const yScale = v => y0 - (v / maxV) * (y0 - yTopPx);
  const xBar = i => firstBar + i * barStep;

  const yAxis = mk(g, 'line', {x1: axisX, y1: yTopPx - 2, x2: axisX, y2: y0, stroke: '#000', 'stroke-width': 3.5});
  
  

  cycleTicks.forEach(v => {
    const t = mk(g, 'line', {x1: 284.6, y1: yScale(v), x2: axisX, y2: yScale(v), stroke: '#000', 'stroke-width': 3.5});
    
    
    const l = mk(g, 'text', {x: 278, y: yScale(v) + 10, 'text-anchor': 'end', 'font-size': 27, 'font-weight': 'bold'}, String(v));
    
    
  });
  const title = mk(g, 'text', {transform: 'translate(204 1816.5) rotate(-90)', 'text-anchor': 'middle', 'font-size': 38, textLength: 243, lengthAdjust: 'spacingAndGlyphs'}, 'cell cycle (%)');
  
  

  function err(cx, v, e) {
    const top = yScale(v + e);
    const s = mk(g, 'path', {d: 'M' + cx + ' ' + yScale(v) + 'V' + top, fill: 'none', stroke: '#000', 'stroke-width': 3});
    
    
    const c = mk(g, 'path', {d: 'M' + (cx - 15) + ' ' + top + 'H' + (cx + 15), fill: 'none', stroke: '#000', 'stroke-width': 4});
    
    
  }
  phaseCategories.forEach((c, i) => {
    const xN = xBar(i * 2), xF = xBar(i * 2 + 1);
    err(xN, ncCycle[i], ncCycleErr[i]);
    err(xF, fasnCycle[i], fasnCycleErr[i]);
    const b1 = mk(g, 'rect', {x: xN - barW / 2, y: yScale(ncCycle[i]), width: barW, height: y0 - yScale(ncCycle[i]), fill: '#0a0906'});
    
    
    const b2 = mk(g, 'rect', {x: xF - barW / 2 + strokeW / 2, y: yScale(fasnCycle[i]) + strokeW / 2, width: barW - strokeW, height: y0 - yScale(fasnCycle[i]) - strokeW / 2, fill: fasnFills[i], stroke: '#0a0906', 'stroke-width': strokeW});
    
    
    const t1 = mk(g, 'line', {x1: xN, y1: y0, x2: xN, y2: 2030.7, stroke: '#000', 'stroke-width': 3});
    
    
    const t2 = mk(g, 'line', {x1: xF, y1: y0, x2: xF, y2: 2030.7, stroke: '#000', 'stroke-width': 3});
    
    
    const l = mk(g, 'text', {x: (xN + xF) / 2, y: 2063, 'text-anchor': 'middle', 'font-size': 29}, c);
    
    
    if (cycleSig[i]) {
      const st = mk(g, 'text', {x: xF, y: yScale(cycleSigLevels[i]) + 15, 'text-anchor': 'middle', 'font-size': 26}, cycleSig[i]);
      
      
    }
  });
  const xAxis = mk(g, 'line', {x1: 284.6, y1: y0, x2: xEnd, y2: y0, stroke: '#000', 'stroke-width': 4.5});
  
  

  const k1 = mk(g, 'rect', {x: 838.6, y: 1646.7, width: 40.2, height: 20, fill: '#0a0906'});
  
  
  const lt1 = mk(g, 'text', {class: 'lg', x: 904, y: 1667}, 'NC');
  
  
  const k2 = mk(g, 'rect', {x: 841.1, y: 1700.5, width: 35.2, height: 15, fill: '#a09fa5', stroke: '#0a0906', 'stroke-width': 5});
  
  
  const lt2 = mk(g, 'text', {class: 'lg', x: 904, y: 1719}, 'FASN');
  
  
})();

/* ---------- Panel D ---------- */
(function drawD() {
  const g = document.getElementById('panel-d');
  const axisX = 2489, xEnd = 2973, y0 = 1991, yTopPx = 1644.3, maxV = 2;
  const barW = 64, firstGroup = 2601, groupStep = 258, barOffset = 48.5;
  const yScale = v => y0 - (v / maxV) * (y0 - yTopPx);
  const xGroup = i => firstGroup + i * groupStep;

  const yAxis = mk(g, 'line', {x1: axisX, y1: yTopPx - 2, x2: axisX, y2: y0, stroke: '#000', 'stroke-width': 3.5});
  
  
  exprTicks.forEach(s => {
    const v = parseFloat(s);
    const t = mk(g, 'line', {x1: 2475, y1: yScale(v), x2: axisX, y2: yScale(v), stroke: '#000', 'stroke-width': 3.5});
    
    
    const l = mk(g, 'text', {x: 2470, y: yScale(v) + 10, 'text-anchor': 'end', 'font-size': 24, 'font-weight': 'bold'}, s);
    
    
  });
  const title = mk(g, 'text', {transform: 'translate(2400 1819) rotate(-90)', 'text-anchor': 'middle', 'font-size': 34, textLength: 382, lengthAdjust: 'spacingAndGlyphs'}, 'Relative expression level');
  
  

  function err(cx, v, e) {
    const top = yScale(v + e);
    const s = mk(g, 'path', {d: 'M' + cx + ' ' + yScale(v) + 'V' + top, fill: 'none', stroke: '#000', 'stroke-width': 3});
    
    
    const c = mk(g, 'path', {d: 'M' + (cx - 16) + ' ' + top + 'H' + (cx + 16), fill: 'none', stroke: '#000', 'stroke-width': 4});
    
    
  }
  proteinCategories.forEach((c, i) => {
    const cx = xGroup(i), xN = cx - barOffset, xF = cx + barOffset;
    err(xN, ncExpr[i], ncExprErr[i]);
    err(xF, fasnExpr[i], fasnExprErr[i]);
    const b1 = mk(g, 'rect', {x: xN - barW / 2, y: yScale(ncExpr[i]), width: barW, height: y0 - yScale(ncExpr[i]), fill: '#0a0906'});
    
    
    const b2 = mk(g, 'rect', {x: xF - barW / 2, y: yScale(fasnExpr[i]), width: barW, height: y0 - yScale(fasnExpr[i]), fill: '#a09fa5'});
    
    
    const t = mk(g, 'line', {x1: cx, y1: y0, x2: cx, y2: 2005, stroke: '#000', 'stroke-width': 3});
    
    
    const l = mk(g, 'text', {x: cx, y: 2032, 'text-anchor': 'middle', 'font-size': 24, 'font-weight': 'bold'}, c);
    
    
    const st = mk(g, 'text', {x: xF - 1, y: yScale(exprSigLevels[i]) + 13, 'text-anchor': 'middle', 'font-size': 26}, '*');
    
    
  });
  const xAxis = mk(g, 'line', {x1: 2475, y1: y0, x2: xEnd, y2: y0, stroke: '#000', 'stroke-width': 4.5});
  
  

  const k1 = mk(g, 'rect', {x: 3046.5, y: 1659, width: 33.5, height: 18, fill: '#0a0906'});
  
  
  const lt1 = mk(g, 'text', {x: 3101.5, y: 1678, 'font-size': 25}, 'NC');
  
  
  const k2 = mk(g, 'rect', {x: 3046.5, y: 1706, width: 33.5, height: 18, fill: '#a09fa5'});
  
  
  const lt2 = mk(g, 'text', {x: 3101.5, y: 1724, 'font-size': 25}, 'FASN');
  
  
})();

/* ---------- condensed, taller lettering ---------- */
document.querySelectorAll('text.st').forEach(t => narrowText(t, 16.5));
document.querySelectorAll('text.tall-a').forEach(t => narrowText(t, 28));
document.querySelectorAll('text.lg').forEach(t => narrowText(t, 31));
</script>
</body>
</html>
